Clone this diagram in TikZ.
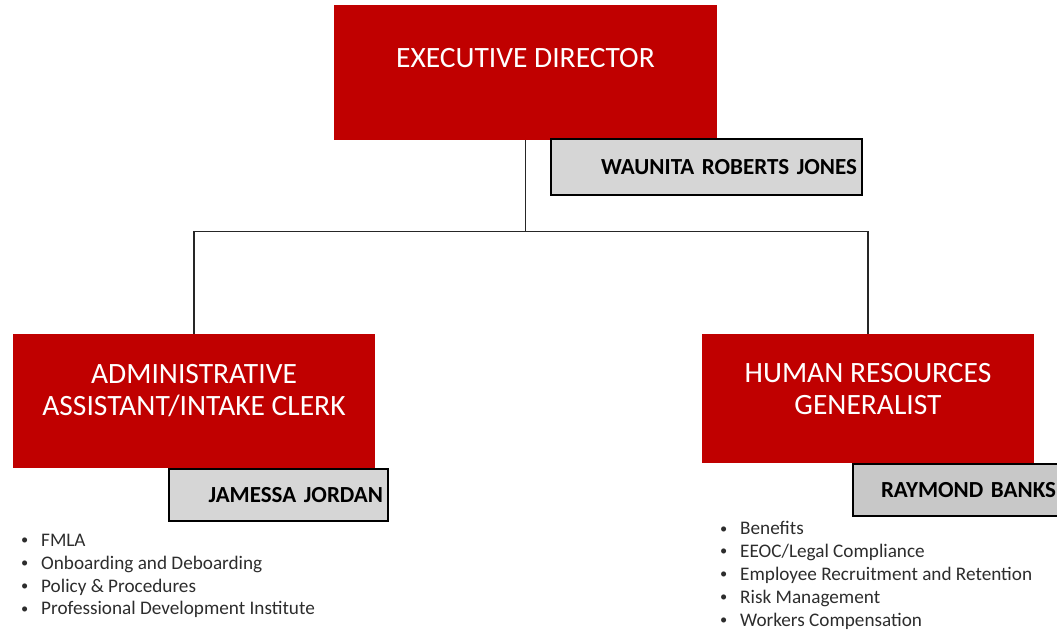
\documentclass[tikz,border=0pt]{standalone}
\usepackage{fontspec}
\setmainfont{Carlito}
\usetikzlibrary{positioning}
\definecolor{orgred}{RGB}{192, 0, 0}
\definecolor{namegray}{RGB}{214, 214, 214}
\definecolor{namegraydark}{RGB}{200, 200, 200}
\definecolor{listgray}{RGB}{45, 45, 45}
\newcommand{\dutybullet}{\makebox[20pt][l]{\raisebox{0.1em}{\scalebox{0.75}{\textbullet}}}}

\begin{document}
\begin{tikzpicture}[x=1pt, y=-1pt,
	% red position boxes
	rolebox/.style={
			rectangle,
			fill=orgred,
			draw=none,
			inner sep=0pt
		},
	roletext/.style={
			text=white,
			align=center,
			font=\fontsize{29.5}{32}\selectfont
		},
	% grey name plates
	namebox/.style={
			rectangle,
			fill=namegray,
			draw=black,
			line width=1.3pt,
			inner xsep=5pt,
			inner ysep=0pt,
			align=right,
			font=\fontsize{23}{26}\selectfont\bfseries
		},
	duties/.style={
			align=left,
			inner sep=0pt,
			text=listgray,
			font=\fontsize{19.2}{22.8}\selectfont
		},
	link/.style={
			draw=black!85,
			line width=1.2pt
		}
	]

	\useasboundingbox (0, 0) rectangle (1057, 631);

	% Executive director
	\node[rolebox, minimum width=383pt, minimum height=135pt] (exec) at (525.5, 72.5) {};
	\node[roletext] (exectitle) at (525.5, 58) {EXECUTIVE DIRECTOR};
	\node[namebox, text width=301pt, minimum height=56pt] (waunita) at (706.5, 167) {WAUNITA ROBERTS JONES};

	% Administrative assistant
	\node[rolebox, minimum width=362pt, minimum height=134pt] (admin) at (194, 401) {};
	\node[roletext] (admintitle) at (194, 391) {ADMINISTRATIVE\\ASSISTANT/INTAKE CLERK};
	\node[namebox, text width=209pt, minimum height=52pt] (jamessa) at (278.5, 495) {JAMESSA JORDAN};

	% Human resources generalist
	\node[rolebox, minimum width=332pt, minimum height=129pt] (hr) at (868, 398.5) {};
	\node[roletext] (hrtitle) at (868, 389.5) {HUMAN RESOURCES\\GENERALIST};
	\node[namebox, fill=namegraydark, text width=198pt, minimum height=52pt] (raymond) at (957, 490) {RAYMOND BANKS};

	% Duty lists
	\node[duties, anchor=north west] (admintasks) at (21, 534) {\dutybullet FMLA\\
		\dutybullet Onboarding and Deboarding\\
		\dutybullet Policy \& Procedures\\
		\dutybullet Professional Development Institute};
	\node[duties, anchor=north west] (hrtasks) at (720, 521.5) {\dutybullet Benefits\\
		\dutybullet EEOC/Legal Compliance\\
		\dutybullet Employee Recruitment and Retention\\
		\dutybullet Risk Management\\
		\dutybullet Workers Compensation};

	% Reporting lines
	\coordinate[below=91pt of exec.south] (bus);
	\draw[link] (exec.south) -- (bus);
	\draw[link] (admin.north) |- (bus) -| (hr.north);

\end{tikzpicture}
\end{document}
